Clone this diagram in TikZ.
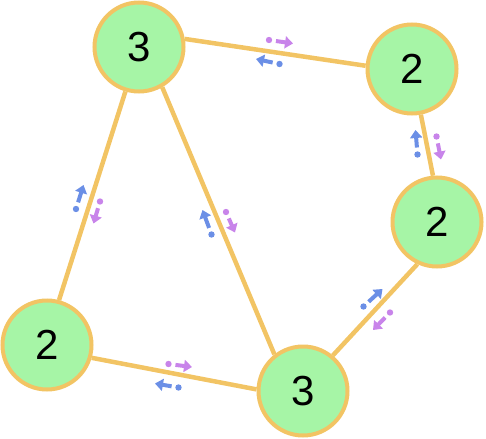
\documentclass[tikz,border=0pt]{standalone}
\usepackage{fontspec}
\setmainfont{Liberation Sans}
\usetikzlibrary{arrows.meta,calc,backgrounds}
\definecolor{MintFill}{HTML}{A6F5A6}
\definecolor{SandRim}{HTML}{F2C464}
\definecolor{CornBlue}{HTML}{6B8FE6}
\definecolor{Lilac}{HTML}{C884EA}
\tikzset{
  vert/.style={circle,draw=SandRim,fill=MintFill,line width=4pt,minimum size=89pt,inner sep=0pt,font=\fontsize{42}{44}\selectfont},
  edge/.style={SandRim,line width=4.5pt},
  flowarrow/.style={line width=4pt,-{Triangle[length=8pt,width=12pt]}}
}
\newcommand{\flowmark}[3]{%
  \fill[#1] (#2) circle (3.2);
  \draw[flowarrow,#1] ($(#2)!7pt!(#3)$) -- (#3);
}
\begin{document}
\begin{tikzpicture}[x=1pt,y=-1pt]
  \useasboundingbox (0,0) rectangle (486,438);
  \node[vert] (topL) at (139,47) {3};
  \node[vert] (topR) at (412,69) {2};
  \node[vert] (midR) at (437,222) {2};
  \node[vert] (botL) at (47,345) {2};
  \node[vert] (botM) at (303,391) {3};
  \begin{scope}[on background layer]
    \draw[edge] (topL.10) -- (topR.176);
    \draw[edge] (topR.-79) -- (midR.95);
    \draw[edge] (midR.245) -- (botM.50);
    \draw[edge] (botL.-16) -- (botM.178);
    \draw[edge] (topL.-107) -- (botL.75);
    \draw[edge] (topL.-60) -- (botM.128);
  \end{scope}
  % little flow marks beside each edge
  \flowmark{Lilac}{269,40}{293,43.5}
  \flowmark{CornBlue}{279.5,64}{256,59}
  \flowmark{CornBlue}{76,209}{83.5,185}
  \flowmark{Lilac}{100,201.5}{93.5,223.5}
  \flowmark{CornBlue}{211.5,234.5}{202.5,210}
  \flowmark{Lilac}{226,212}{235,232.5}
  \flowmark{CornBlue}{363.5,306.5}{382.5,289}
  \flowmark{Lilac}{390,312.5}{373,330}
  \flowmark{CornBlue}{417.5,154.5}{415.5,130}
  \flowmark{Lilac}{436.5,136.5}{441,159.5}
  \flowmark{Lilac}{168.5,364}{192,367}
  \flowmark{CornBlue}{178.5,387.5}{155,383.5}
\end{tikzpicture}
\end{document}
